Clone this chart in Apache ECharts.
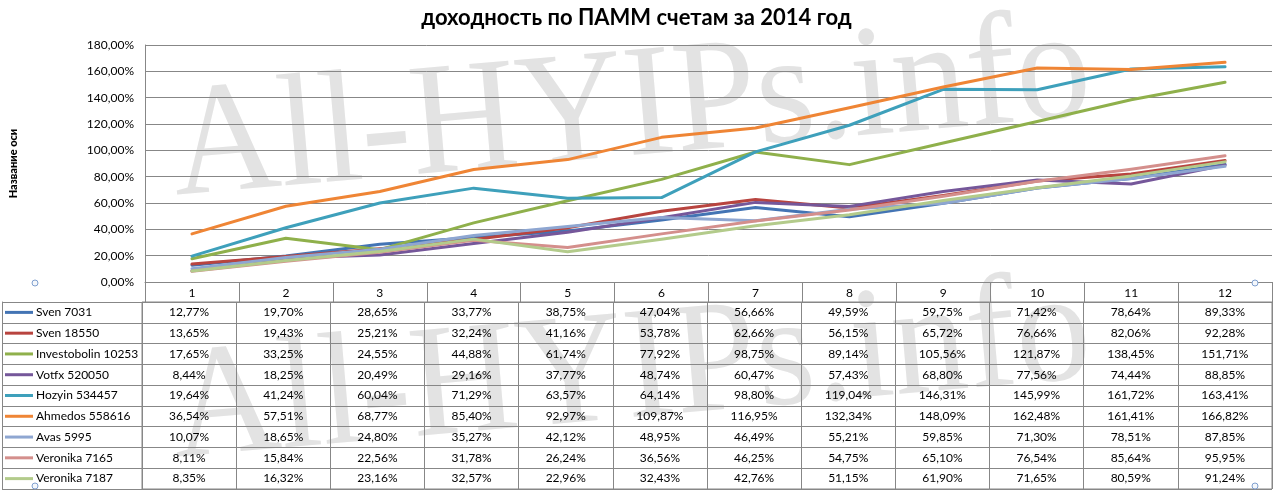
<!DOCTYPE html>
<html><head><meta charset="utf-8">
<script src="https://cdn.jsdelivr.net/npm/echarts@6/dist/echarts.min.js"></script>
<style>html,body{margin:0;padding:0;background:#fff}#c{width:1273px;height:490px}</style>
</head><body><div id="c"></div><script>
// ---- data ----
const categories = ['1','2','3','4','5','6','7','8','9','10','11','12'];
const seriesNames = ['Sven 7031','Sven 18550','Investobolin 10253','Votfx 520050','Hozyin 534457','Ahmedos 558616','Avas 5995','Veronika 7165','Veronika 7187'];
const sven7031      = [12.77, 19.70, 28.65, 33.77, 38.75, 47.04, 56.66, 49.59, 59.75, 71.42, 78.64, 89.33];
const sven18550     = [13.65, 19.43, 25.21, 32.24, 41.16, 53.78, 62.66, 56.15, 65.72, 76.66, 82.06, 92.28];
const investobolin  = [17.65, 33.25, 24.55, 44.88, 61.74, 77.92, 98.75, 89.14, 105.56, 121.87, 138.45, 151.71];
const votfx         = [8.44, 18.25, 20.49, 29.16, 37.77, 48.74, 60.47, 57.43, 68.80, 77.56, 74.44, 88.85];
const hozyin        = [19.64, 41.24, 60.04, 71.29, 63.57, 64.14, 98.80, 119.04, 146.31, 145.99, 161.72, 163.41];
const ahmedos       = [36.54, 57.51, 68.77, 85.40, 92.97, 109.87, 116.95, 132.34, 148.09, 162.48, 161.41, 166.82];
const avas          = [10.07, 18.65, 24.80, 35.27, 42.12, 48.95, 46.49, 55.21, 59.85, 71.30, 78.51, 87.85];
const veronika7165  = [8.11, 15.84, 22.56, 31.78, 26.24, 36.56, 46.25, 54.75, 65.10, 76.54, 85.64, 95.95];
const veronika7187  = [8.35, 16.32, 23.16, 32.57, 22.96, 32.43, 42.76, 51.15, 61.90, 71.65, 80.59, 91.24];
const titleText = 'доходность по ПАММ счетам за 2014 год';
const yAxisTitle = 'Название оси';
const watermarkText = 'All-HYIPs.info';

// ---- styles ----
const colors = ['#4374b4','#b8443f','#8fb04b','#75579a','#3ea0bb','#ef8535','#8ea6d1','#d48f8c','#b3cb8b'];
const FONT = 'Lato, "Noto Sans", sans-serif';
const GRID_COLOR = '#878787';
const WM_STYLE = { text: watermarkText, font: '160px "Liberation Serif", serif', fill: '#e3e3e3', align: 'left', verticalAlign: 'middle' };

const values = [sven7031, sven18550, investobolin, votfx, hozyin, ahmedos, avas, veronika7165, veronika7187];
const pct = v => Number(v).toFixed(2).replace('.', ',') + '%';

const cellData = [];
values.forEach((arr, r) => arr.forEach((v, c) => cellData.push([c, r, v])));

const rich = { t: { padding: [0, 0, 0, 3], fontSize: 12, color: '#000', fontFamily: FONT } };
colors.forEach((c, i) => { rich['k' + i] = { width: 28, height: 3, backgroundColor: c }; });

const chart = echarts.init(document.getElementById('c'), null, { renderer: 'canvas' });
chart.setOption({
  animation: false,
  backgroundColor: '#fff',
  title: {
    text: titleText, left: 'center', top: 2,
    textStyle: { fontSize: 22, fontWeight: 'bold', color: '#000', fontFamily: FONT }
  },
  grid: [
    { left: 142, right: 1, top: 45, bottom: 208 },
    { left: 142, right: 1, top: 302, bottom: 1, show: true, borderColor: GRID_COLOR, borderWidth: 1 }
  ],
  xAxis: [
    {
      type: 'category', gridIndex: 0, data: categories, boundaryGap: true,
      axisLine: { show: true, lineStyle: { color: GRID_COLOR, width: 1 } },
      axisTick: { show: true, length: 20, interval: 0, lineStyle: { color: GRID_COLOR } },
      axisLabel: { margin: 5, fontSize: 12, color: '#000', fontFamily: FONT, interval: 0 },
      splitLine: { show: false }
    },
    {
      type: 'category', gridIndex: 1, data: categories, boundaryGap: true,
      axisLine: { show: false }, axisTick: { show: false }, axisLabel: { show: false },
      splitLine: { show: true, interval: 0, lineStyle: { color: GRID_COLOR, width: 1 } }
    }
  ],
  yAxis: [
    {
      type: 'value', gridIndex: 0, min: 0, max: 180, interval: 20,
      name: yAxisTitle, nameLocation: 'middle', nameRotate: 90, nameGap: 126,
      nameTextStyle: { fontSize: 11, fontWeight: 900, color: '#000', fontFamily: FONT },
      axisLine: { show: true, lineStyle: { color: GRID_COLOR, width: 1 } },
      axisTick: { show: false },
      axisLabel: { margin: 11, fontSize: 12, color: '#000', fontFamily: FONT, formatter: v => pct(v) },
      splitLine: { show: true, lineStyle: { color: GRID_COLOR, width: 1 } }
    },
    {
      type: 'category', gridIndex: 1, data: seriesNames, inverse: true, boundaryGap: true,
      axisLine: { show: false },
      axisTick: { show: true, length: 140, interval: 0, lineStyle: { color: GRID_COLOR } },
      axisLabel: { align: 'left', margin: 137, interval: 0, formatter: (v, i) => '{k' + i + '|}{t|' + v + '}', rich: rich },
      splitLine: { show: true, interval: 0, lineStyle: { color: GRID_COLOR, width: 1 } }
    },
    {
      type: 'value', gridIndex: 1, position: 'left', offset: 140,
      axisLine: { show: true, lineStyle: { color: GRID_COLOR, width: 1 } },
      axisTick: { show: false }, axisLabel: { show: false }, splitLine: { show: false }
    }
  ],
  graphic: [
    { type: 'text', x: 172, y: 153, rotation: 0.087, scaleX: 0.93, z: -10, silent: true, style: WM_STYLE },
    { type: 'text', x: 172, y: 415, rotation: 0.087, scaleX: 0.93, z: -10, silent: true, style: WM_STYLE },
    { type: 'circle', shape: { cx: 35, cy: 283, r: 3 }, z: 50, style: { fill: '#f4f7fb', stroke: '#7f9fcf', lineWidth: 1 } },
    { type: 'circle', shape: { cx: 1255, cy: 283, r: 3 }, z: 50, style: { fill: '#f4f7fb', stroke: '#7f9fcf', lineWidth: 1 } },
    { type: 'circle', shape: { cx: 35, cy: 486, r: 3 }, z: 50, style: { fill: '#f4f7fb', stroke: '#7f9fcf', lineWidth: 1 } },
    { type: 'circle', shape: { cx: 1255, cy: 486, r: 3 }, z: 50, style: { fill: '#f4f7fb', stroke: '#7f9fcf', lineWidth: 1 } }
  ],
  series: values.map((arr, i) => ({
    type: 'line', name: seriesNames[i], data: arr, xAxisIndex: 0, yAxisIndex: 0,
    symbol: 'none', smooth: false,
    lineStyle: { width: 3, color: colors[i], cap: 'round', join: 'round' },
    itemStyle: { color: colors[i] }, z: 3
  })).concat([{
    type: 'custom', xAxisIndex: 1, yAxisIndex: 1, data: cellData, z: 4,
    renderItem: (params, api) => {
      const p = api.coord([api.value(0), api.value(1)]);
      return { type: 'text', x: p[0], y: p[1],
        style: { text: pct(api.value(2)), align: 'center', verticalAlign: 'middle', fontSize: 12, fontFamily: FONT, fill: '#000' } };
    }
  }])
});
</script></body></html>
